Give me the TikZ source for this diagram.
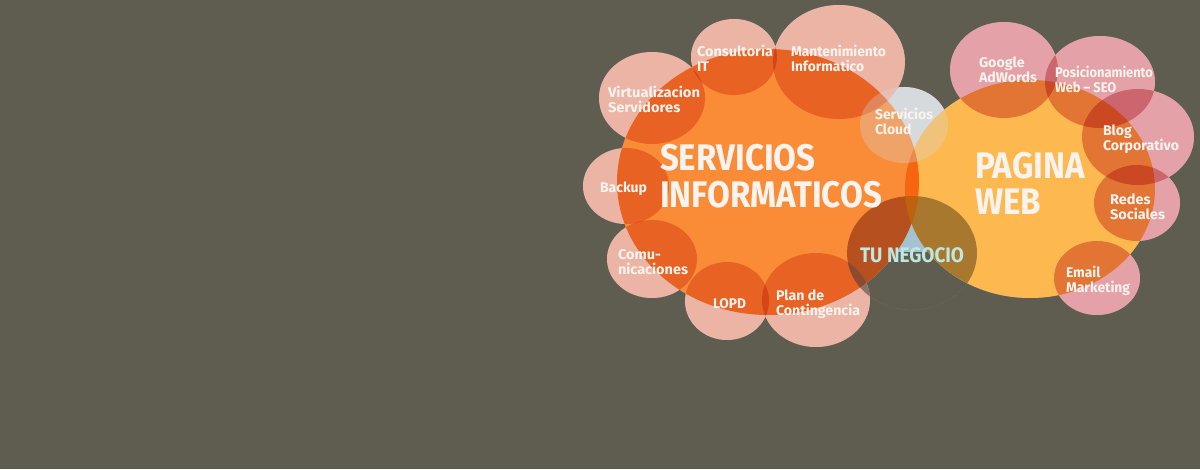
\documentclass[tikz,border=0pt]{standalone}
\usepackage{fontspec}
\setmainfont{Fira Sans}
\usepackage{graphicx}
\definecolor{bgc}{HTML}{5F5C50}
\definecolor{orangec}{HTML}{FA8C37}
\definecolor{yellowc}{HTML}{FDB850}
\definecolor{salmonc}{HTML}{ECB4A4}
\definecolor{pinkc}{HTML}{E4A2A8}
\definecolor{cloudc}{HTML}{D6DADD}
\definecolor{wedgec}{HTML}{A3C3D3}
\definecolor{tuA}{HTML}{B6501E}
\definecolor{tuB}{HTML}{A8782F}
\definecolor{tuM}{HTML}{C0620C}
\definecolor{tuC}{HTML}{8C7268}
\definecolor{tuD}{HTML}{8E4A2E}
\definecolor{dotc}{HTML}{858258}
\definecolor{labelc}{HTML}{FBF3EE}
\definecolor{tutext}{HTML}{BCE8E1}
\newcommand\lbl[2]{\resizebox{#1pt}{\height}{\begin{tabular}[t]{@{}l@{}}#2\end{tabular}}}
% shapes (pixel coordinates, y downwards)
\newcommand\ShOrange{(768,182) ellipse (151pt and 133pt)}
\newcommand\ShYellow{(1030,189) ellipse (125pt and 109pt)}
\newcommand\ShTU{(912,253) ellipse (65pt and 57pt)}
\newcommand\ShCloud{(904,125) ellipse (44pt and 38pt)}
\newcommand\ShConsult{(734,57) ellipse (43pt and 38pt)}
\newcommand\ShMant{(839,62) ellipse (66pt and 57pt)}
\newcommand\ShVirt{(652,98) ellipse (53pt and 46pt)}
\newcommand\ShBackup{(626,186) ellipse (43pt and 38pt)}
\newcommand\ShComu{(652,259) ellipse (45pt and 39pt)}
\newcommand\ShLopd{(727,301) ellipse (42pt and 39pt)}
\newcommand\ShPlan{(816,300) ellipse (54pt and 47pt)}
\newcommand\ShGoogle{(1004,70) ellipse (54pt and 48pt)}
\newcommand\ShPosic{(1100,82) ellipse (55pt and 46pt)}
\newcommand\ShBlog{(1138,137) ellipse (56pt and 48pt)}
\newcommand\ShRedes{(1137,203) ellipse (43pt and 38pt)}
\newcommand\ShEmail{(1097,278) ellipse (43pt and 37pt)}
\tikzset{
  lbl/.style={anchor=base west, inner sep=0pt, outer sep=0pt, text=labelc,
    font=\bfseries\fontsize{14}{15}\selectfont},
  biglbl/.style={lbl, font=\bfseries\fontsize{37}{37}\selectfont},
  tulbl/.style={lbl, text=tutext, font=\bfseries\fontsize{21}{21}\selectfont},
}
\begin{document}
\begin{tikzpicture}[x=1pt,y=-1pt]
\useasboundingbox (0,0) rectangle (1200,469);
\fill[bgc] (0,0) rectangle (1200,469);
% faint dotted outline of TU NEGOCIO
\draw[dotc, line width=0.4pt, dash pattern=on 0.5pt off 1.5pt] \ShTU;
% light blue wedge between the two big circles
\begin{scope}
  \clip \ShTU;
  \fill[wedgec] (895,190) rectangle (927,252);
\end{scope}
% cloud bubble (opaque part over background)
\fill[cloudc] \ShCloud;
% white base
\fill[white] \ShOrange \ShYellow \ShConsult \ShMant \ShVirt \ShBackup \ShComu
  \ShLopd \ShPlan \ShGoogle \ShPosic \ShBlog \ShRedes \ShEmail;
% multiplied colours
\begin{scope}[blend mode=multiply]
  \fill[orangec] \ShOrange;
  \fill[yellowc] \ShYellow;
  \fill[salmonc] \ShConsult;
  \fill[salmonc] \ShMant;
  \fill[salmonc] \ShVirt;
  \fill[salmonc] \ShBackup;
  \fill[salmonc] \ShComu;
  \fill[salmonc] \ShLopd;
  \fill[salmonc] \ShPlan;
  \fill[pinkc] \ShGoogle;
  \fill[pinkc] \ShPosic;
  \fill[pinkc] \ShBlog;
  \fill[pinkc] \ShRedes;
  \fill[pinkc] \ShEmail;
\end{scope}
\fill[cloudc, fill opacity=0.3] \ShCloud;
% TU NEGOCIO shading
\begin{scope}\clip \ShTU; \clip \ShYellow; \fill[tuB] (840,190) rectangle (990,320);\end{scope}
\begin{scope}\clip \ShTU; \clip \ShOrange; \fill[tuA] (840,190) rectangle (990,320);\end{scope}
\begin{scope}\clip \ShTU; \clip \ShOrange; \clip \ShYellow; \fill[tuM] (840,190) rectangle (990,320);\end{scope}
\begin{scope}\clip \ShTU; \clip \ShPlan; \fill[tuC] (840,190) rectangle (990,320);\end{scope}
\begin{scope}\clip \ShTU; \clip \ShPlan; \clip \ShOrange; \fill[tuD] (840,190) rectangle (990,320);\end{scope}
% labels
\node[biglbl] (servicios) at (660,170) {\lbl{222}{SERVICIOS\\INFORMATICOS}};
\node[biglbl, font=\bfseries\fontsize{37}{36}\selectfont] (pagina) at (975,178) {\lbl{110}{PAGINA\\WEB}};
\node[tulbl] (negocio) at (860,262) {\lbl{104}{TU NEGOCIO}};
\node[lbl] (consult) at (697,56) {\lbl{76}{Consultoria\\IT}};
\node[lbl] (mant) at (791,56) {\lbl{95}{Mantenimiento\\Informatico}};
\node[lbl] (virt) at (608,97) {\lbl{92}{Virtualizacion\\Servidores}};
\node[lbl] (cloud) at (875,119) {\lbl{58}{Servicios\\Cloud}};
\node[lbl] (backup) at (600,192) {\lbl{47}{Backup}};
\node[lbl] (comu) at (618,259) {\lbl{70}{Comu-\\nicaciones}};
\node[lbl] (lopd) at (713,308) {\lbl{33}{LOPD}};
\node[lbl] (plan) at (776,300) {\lbl{84}{Plan de\\Contingencia}};
\node[lbl] (google) at (979,67) {\lbl{58}{Google\\AdWords}};
\node[lbl] (posic) at (1055,77) {\lbl{98}{Posicionamiento\\Web – SEO}};
\node[lbl] (blog) at (1103,135) {\lbl{76}{Blog\\Corporativo}};
\node[lbl] (redes) at (1110,204) {\lbl{55}{Redes\\Sociales}};
\node[lbl] (email) at (1066,277) {\lbl{64}{Email\\Marketing}};
\end{tikzpicture}
\end{document}
